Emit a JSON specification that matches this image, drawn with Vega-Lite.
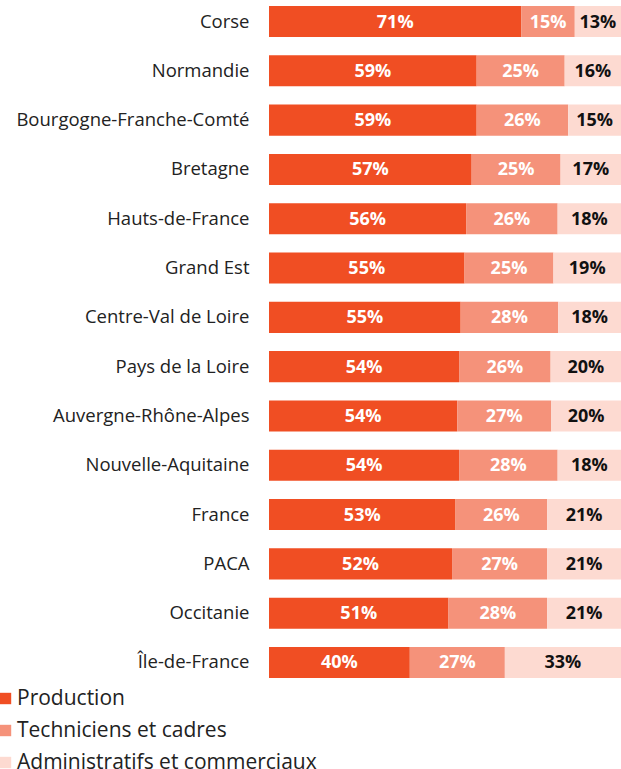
{
  "$schema": "https://vega.github.io/schema/vega-lite/v6.json",
  "width": 352,
  "height": 672,
  "autosize": {"type": "none"},
  "padding": {"left": 269, "top": 6, "right": 0, "bottom": 91},
  "config": {"view": {"stroke": null}, "font": "Open Sans"},
  "data": {"values": [
    {"r":"Corse","c":"Production","o":1,"v":0.71},{"r":"Corse","c":"Techniciens et cadres","o":2,"v":0.15},{"r":"Corse","c":"Administratifs et commerciaux","o":3,"v":0.13},
    {"r":"Normandie","c":"Production","o":1,"v":0.59},{"r":"Normandie","c":"Techniciens et cadres","o":2,"v":0.25},{"r":"Normandie","c":"Administratifs et commerciaux","o":3,"v":0.16},
    {"r":"Bourgogne-Franche-Comté","c":"Production","o":1,"v":0.59},{"r":"Bourgogne-Franche-Comté","c":"Techniciens et cadres","o":2,"v":0.26},{"r":"Bourgogne-Franche-Comté","c":"Administratifs et commerciaux","o":3,"v":0.15},
    {"r":"Bretagne","c":"Production","o":1,"v":0.57},{"r":"Bretagne","c":"Techniciens et cadres","o":2,"v":0.25},{"r":"Bretagne","c":"Administratifs et commerciaux","o":3,"v":0.17},
    {"r":"Hauts-de-France","c":"Production","o":1,"v":0.56},{"r":"Hauts-de-France","c":"Techniciens et cadres","o":2,"v":0.26},{"r":"Hauts-de-France","c":"Administratifs et commerciaux","o":3,"v":0.18},
    {"r":"Grand Est","c":"Production","o":1,"v":0.55},{"r":"Grand Est","c":"Techniciens et cadres","o":2,"v":0.25},{"r":"Grand Est","c":"Administratifs et commerciaux","o":3,"v":0.19},
    {"r":"Centre-Val de Loire","c":"Production","o":1,"v":0.55},{"r":"Centre-Val de Loire","c":"Techniciens et cadres","o":2,"v":0.28},{"r":"Centre-Val de Loire","c":"Administratifs et commerciaux","o":3,"v":0.18},
    {"r":"Pays de la Loire","c":"Production","o":1,"v":0.54},{"r":"Pays de la Loire","c":"Techniciens et cadres","o":2,"v":0.26},{"r":"Pays de la Loire","c":"Administratifs et commerciaux","o":3,"v":0.20},
    {"r":"Auvergne-Rhône-Alpes","c":"Production","o":1,"v":0.54},{"r":"Auvergne-Rhône-Alpes","c":"Techniciens et cadres","o":2,"v":0.27},{"r":"Auvergne-Rhône-Alpes","c":"Administratifs et commerciaux","o":3,"v":0.20},
    {"r":"Nouvelle-Aquitaine","c":"Production","o":1,"v":0.54},{"r":"Nouvelle-Aquitaine","c":"Techniciens et cadres","o":2,"v":0.28},{"r":"Nouvelle-Aquitaine","c":"Administratifs et commerciaux","o":3,"v":0.18},
    {"r":"France","c":"Production","o":1,"v":0.53},{"r":"France","c":"Techniciens et cadres","o":2,"v":0.26},{"r":"France","c":"Administratifs et commerciaux","o":3,"v":0.21},
    {"r":"PACA","c":"Production","o":1,"v":0.52},{"r":"PACA","c":"Techniciens et cadres","o":2,"v":0.27},{"r":"PACA","c":"Administratifs et commerciaux","o":3,"v":0.21},
    {"r":"Occitanie","c":"Production","o":1,"v":0.51},{"r":"Occitanie","c":"Techniciens et cadres","o":2,"v":0.28},{"r":"Occitanie","c":"Administratifs et commerciaux","o":3,"v":0.21},
    {"r":"Île-de-France","c":"Production","o":1,"v":0.40},{"r":"Île-de-France","c":"Techniciens et cadres","o":2,"v":0.27},{"r":"Île-de-France","c":"Administratifs et commerciaux","o":3,"v":0.33}
  ]},
  "encoding": {
    "y": {"field": "r", "type": "nominal", "sort": null, "title": null,
      "scale": {"paddingInner": 0.37, "paddingOuter": 0},
      "axis": {"domain": false, "ticks": false, "labelPadding": 20, "labelFontSize": 18.5, "labelColor": "#222", "labelFont": "Open Sans", "labelLimit": 300}},
    "order": {"field": "o", "type": "quantitative"}
  },
  "layer": [
    {
      "mark": {"type": "bar"},
      "encoding": {
        "x": {"field": "v", "type": "quantitative", "stack": "normalize", "axis": null},
        "color": {"field": "c", "type": "nominal", "sort": ["Production", "Techniciens et cadres", "Administratifs et commerciaux"],
          "scale": {"domain": ["Production", "Techniciens et cadres", "Administratifs et commerciaux"], "range": ["#F04E23", "#F5927A", "#FDDAD1"]},
          "legend": {"orient": "none", "legendX": -274, "legendY": 682, "title": null, "symbolType": "square", "symbolSize": 130, "symbolStrokeWidth": 0, "symbolOpacity": 1, "labelFontSize": 21, "labelColor": "#222", "labelOffset": 1, "rowPadding": 10, "padding": 0, "labelFont": "Open Sans", "labelLimit": 400}}
      }
    },
    {
      "mark": {"type": "text", "fontWeight": "bold", "fontSize": 18, "baseline": "middle", "align": "center", "dy": 1},
      "encoding": {
        "x": {"field": "v", "type": "quantitative", "stack": "normalize", "bandPosition": 0.5},
        "text": {"field": "v", "type": "quantitative", "format": ".0%"},
        "color": {"condition": {"test": "datum.c === 'Administratifs et commerciaux'", "value": "#111111"}, "value": "#ffffff"}
      }
    }
  ]
}
